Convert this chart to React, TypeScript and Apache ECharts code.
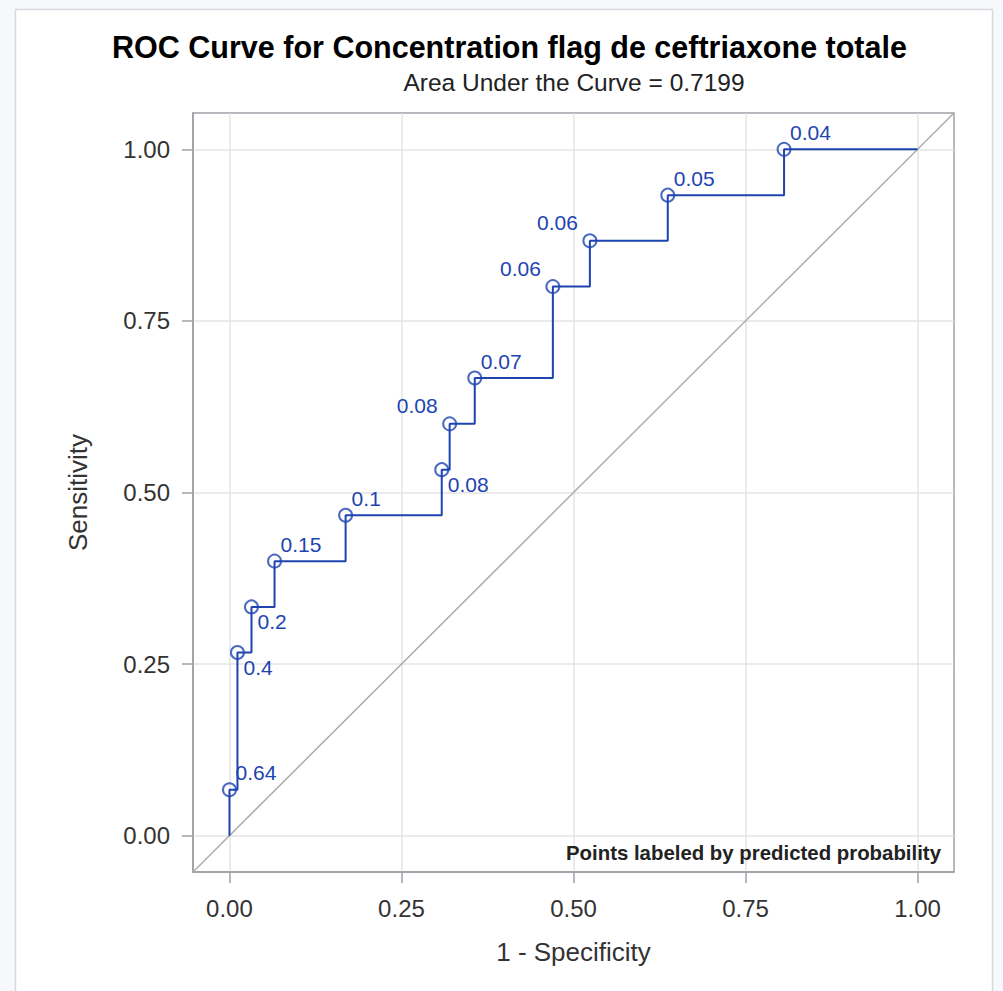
import React, { useEffect, useRef } from "react";
import * as echarts from "echarts";

// ---- data ----
const fpr = [0, 0.0116, 0.032, 0.0655, 0.1688, 0.3085, 0.32, 0.3565, 0.47, 0.5238, 0.637, 0.806];
const tpr = [0.0667, 0.2667, 0.3333, 0.4, 0.4667, 0.5333, 0.6, 0.6667, 0.8, 0.8667, 0.9333, 1.0];
const probLabels = ["0.64", "0.4", "0.2", "0.15", "0.1", "0.08", "0.08", "0.07", "0.06", "0.06", "0.05", "0.04"];
const tickValues = [0, 0.25, 0.5, 0.75, 1];
const axisBounds = [-0.053, 1.053];
const curveStart = [0, 0];
const curveEnd = [1, 1];
const titleText = "ROC Curve for Concentration flag de ceftriaxone totale";
const subtitleText = "Area Under the Curve = 0.7199";
const xName = "1 - Specificity";
const yName = "Sensitivity";
const noteText = "Points labeled by predicted probability";

// ---- styling (label placement per point) ----
const labelSides = ["ur", "lr", "lr", "ur", "ur", "lr", "ul", "ur", "ul", "ul", "ur", "ur"];

const FONT = "'Liberation Sans', Arial, sans-serif";
const BLUE = "#1e44b0";
const FRAME = "#9da1a7";
const GRID = "#e5e5e5";

function sideStyle(side: string) {
  if (side === "lr") return { align: "left", offset: [6, 15] };
  if (side === "ul") return { align: "right", offset: [-12, -18] };
  return { align: "left", offset: [6, -17] };
}

export default function App() {
  const ref = useRef<HTMLDivElement>(null);
  useEffect(() => {
    if (!ref.current) return;
    const chart = echarts.init(ref.current, null, { renderer: "svg" });

    const stepData: number[][] = [curveStart];
    let prevY = curveStart[1];
    fpr.forEach((x, i) => {
      stepData.push([x, prevY]);
      stepData.push([x, tpr[i]]);
      prevY = tpr[i];
    });
    stepData.push([curveEnd[0], prevY]);

    const points = fpr.map((x, i) => {
      const s = sideStyle(labelSides[i]);
      return {
        value: [x, tpr[i]],
        label: {
          show: true,
          formatter: probLabels[i],
          position: "inside",
          align: s.align,
          verticalAlign: "middle",
          offset: s.offset,
        },
      };
    });

    const axisCommon = {
      type: "value",
      min: axisBounds[0],
      max: axisBounds[1],
      axisLine: { show: true, onZero: false, lineStyle: { color: FRAME, width: 1.5 } },
      axisTick: {
        show: true,
        inside: false,
        length: 11,
        customValues: tickValues,
        lineStyle: { color: FRAME, width: 1.5 },
      },
      axisLabel: {
        customValues: tickValues,
        formatter: (v: number) => v.toFixed(2),
        fontSize: 24,
        fontFamily: FONT,
        color: "#333",
      },
      splitLine: { show: true, lineStyle: { color: GRID, width: 1.5 } },
      nameLocation: "middle",
      nameTextStyle: { fontSize: 26, fontFamily: FONT, color: "#333" },
    };

    chart.setOption({
      animation: false,
      backgroundColor: "#f6f8fb",
      grid: {
        left: 193,
        top: 113,
        width: 761,
        height: 759,
        show: true,
        borderColor: FRAME,
        borderWidth: 1.5,
        backgroundColor: "transparent",
        containLabel: false,
      },
      xAxis: {
        ...axisCommon,
        position: "bottom",
        name: xName,
        nameGap: 67,
        axisLabel: { ...axisCommon.axisLabel, margin: 24 },
      },
      yAxis: {
        ...axisCommon,
        position: "left",
        name: yName,
        nameGap: 102,
        axisLabel: { ...axisCommon.axisLabel, margin: 23 },
      },
      graphic: [
        {
          type: "rect",
          z: -10,
          shape: { x: 15.5, y: 9.5, width: 977, height: 1000 },
          style: { fill: "#ffffff", stroke: "#d6d9de", lineWidth: 1.5 },
        },
        {
          type: "text",
          z: 10,
          x: 509.5,
          y: 47,
          style: {
            text: titleText,
            fill: "#000",
            font: `bold 30.5px ${FONT}`,
            textAlign: "center",
            textVerticalAlign: "middle",
          },
        },
        {
          type: "text",
          z: 10,
          x: 574,
          y: 82,
          style: {
            text: subtitleText,
            fill: "#222",
            font: `24.5px ${FONT}`,
            textAlign: "center",
            textVerticalAlign: "middle",
          },
        },
        {
          type: "text",
          z: 10,
          x: 941,
          y: 853,
          style: {
            text: noteText,
            fill: "#222",
            font: `bold 20.4px ${FONT}`,
            textAlign: "right",
            textVerticalAlign: "middle",
          },
        },
      ],
      series: [
        {
          type: "line",
          data: [
            [axisBounds[0], axisBounds[0]],
            [axisBounds[1], axisBounds[1]],
          ],
          symbol: "none",
          lineStyle: { color: "#adadad", width: 1.5 },
          silent: true,
          z: 1,
        },
        {
          type: "line",
          data: stepData,
          symbol: "none",
          lineStyle: { color: BLUE, width: 2 },
          z: 3,
        },
        {
          type: "scatter",
          data: points,
          symbol: "circle",
          symbolSize: 13,
          itemStyle: { color: "transparent", borderColor: BLUE, borderWidth: 2 },
          label: {
            color: BLUE,
            fontSize: 21,
            fontFamily: FONT,
            textBorderWidth: 0,
            opacity: 1,
          },
          emphasis: { disabled: true },
          z: 4,
        },
      ],
    });
    return () => chart.dispose();
  }, []);
  return (
    <div
      ref={ref}
      style={{ position: "fixed", left: 0, top: 0, width: 1003, height: 991 }}
    />
  );
}
